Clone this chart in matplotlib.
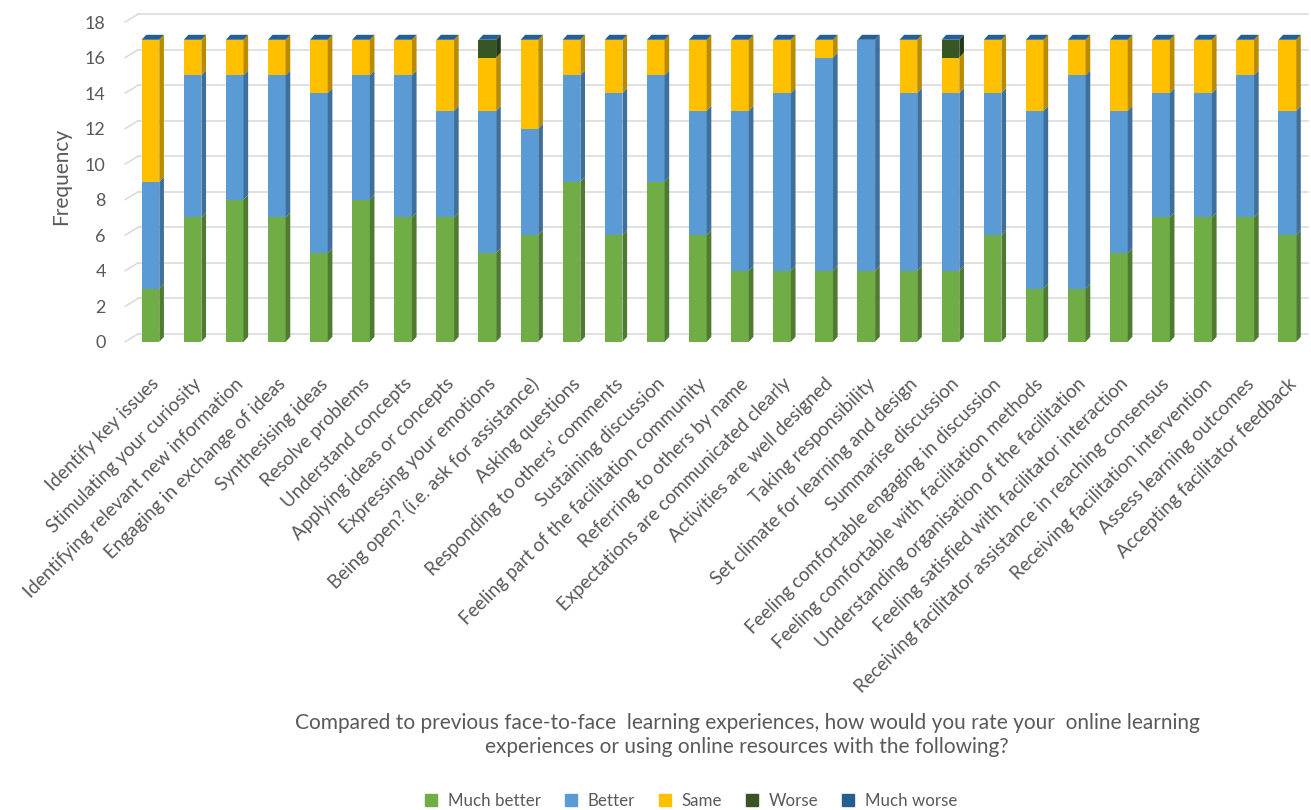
import matplotlib
matplotlib.use('Agg')
import matplotlib.pyplot as plt
import matplotlib.transforms as mtransforms
from matplotlib.patches import Polygon
from matplotlib.lines import Line2D
import numpy as np

plt.rcParams['font.family'] = ['Lato', 'DejaVu Sans']

categories = [
    'Identify key issues', 'Stimulating your curiosity',
    'Identifying relevant new information', 'Engaging in exchange of ideas',
    'Synthesising ideas', 'Resolve problems', 'Understand concepts',
    'Applying ideas or concepts', 'Expressing your emotions',
    'Being open? (i.e. ask for assistance)', 'Asking questions',
    'Responding to others\u2019 comments', 'Sustaining discussion',
    'Feeling part of the facilitation community', 'Referring to others by name',
    'Expectations are communicated clearly', 'Activities are well designed',
    'Taking responsibility', 'Set climate for learning and design',
    'Summarise discussion', 'Feeling comfortable engaging in discussion',
    'Feeling comfortable with facilitation methods',
    'Understanding organisation of the facilitation',
    'Feeling satisfied with facilitator interaction',
    'Receiving facilitator assistance in reaching consensus',
    'Receiving facilitation intervention', 'Assess learning outcomes',
    'Accepting facilitator feedback',
]

much_better = [3, 7, 8, 7, 5, 8, 7, 7, 5, 6, 9, 6, 9, 6, 4, 4, 4, 4, 4, 4, 6, 3, 3, 5, 7, 7, 7, 6]
better      = [6, 8, 7, 8, 9, 7, 8, 6, 8, 6, 6, 8, 6, 7, 9, 10, 12, 13, 10, 10, 8, 10, 12, 8, 7, 7, 8, 7]
same        = [8, 2, 2, 2, 3, 2, 2, 4, 3, 5, 2, 3, 2, 4, 4, 3, 1, 0, 3, 2, 3, 4, 2, 4, 3, 3, 2, 4]
worse       = [0, 0, 0, 0, 0, 0, 0, 0, 1, 0, 0, 0, 0, 0, 0, 0, 0, 0, 0, 1, 0, 0, 0, 0, 0, 0, 0, 0]
much_worse  = [0] * 28

series_names = ['Much better', 'Better', 'Same', 'Worse', 'Much worse']
series = [much_better, better, same, worse, much_worse]
colors = ['#70AD47', '#5B9BD5', '#FFC000', '#375623', '#255E91']
side_colors = ['#4E7A31', '#3F6F9B', '#B88B00', '#24391A', '#183F63']

fig = plt.figure(figsize=(13.11, 8.1), dpi=100)
ax = fig.add_axes([0.0955, 0.578, 0.9025, 0.408])

x = np.arange(len(categories))
w = 0.42
dx, dy = 0.11, 0.28      # depth of the bars (3D look)
gx, gy = 0.31, 0.45      # depth of the back wall

# back wall gridlines + slanted floor ticks
for v in range(0, 19, 2):
    ax.plot([-0.6 + gx, 27.5], [v + gy, v + gy], color='#D9D9D9', lw=1.1, zorder=0, clip_on=False)
    ax.plot([-0.6, -0.6 + gx], [v, v + gy], color='#D9D9D9', lw=1.1, zorder=0, clip_on=False)

bottom = np.zeros(len(categories))
for vals, c, sc in zip(series, colors, side_colors):
    vals = np.array(vals, dtype=float)
    ax.bar(x, vals, w, bottom=bottom, color=c, zorder=2, linewidth=0)
    for xi, b, v in zip(x, bottom, vals):
        if v <= 0:
            continue
        r = xi + w / 2
        ax.add_patch(Polygon([(r, b), (r + dx, b + dy), (r + dx, b + v + dy), (r, b + v)],
                             closed=True, color=sc, lw=0, zorder=2))
    bottom = bottom + vals

# top caps
for xi, t in zip(x, bottom):
    ax.add_patch(Polygon([(xi - w / 2, t), (xi + w / 2, t), (xi + w / 2 + dx, t + dy),
                          (xi - w / 2 + dx, t + dy)], closed=True, color=colors[4], lw=0, zorder=3))

ax.set_xlim(-0.6, 27.5)
ax.set_ylim(0, 18.6)
ax.set_yticks(range(0, 19, 2))
ax.set_xticks(x)
ax.set_xticklabels(categories, fontsize=13.5, color='#595959')
shift = mtransforms.ScaledTranslation(-8 / 72, 4 / 72, fig.dpi_scale_trans)
for lab in ax.get_xticklabels():
    lab.set_rotation(45)
    lab.set_ha('right')
    lab.set_va('top')
    lab.set_rotation_mode('anchor')
    lab.set_transform(lab.get_transform() + shift)
ax.tick_params(axis='x', length=0, pad=24)
ax.tick_params(axis='y', length=0, pad=14, labelsize=13, labelcolor='#595959')
for s in ax.spines.values():
    s.set_visible(False)
ax.set_ylabel('Frequency', fontsize=15, color='#595959', labelpad=10)

fig.text(0.57, 0.0926, 'Compared to previous face-to-face  learning experiences, how would you rate your  online learning\n'
         'experiences or using online resources with the following?',
         ha='center', va='center', fontsize=15, color='#595959', linespacing=1.2)

handles = [Line2D([], [], marker='s', linestyle='', markersize=8.5, color=c) for c in colors]
fig.legend(handles, series_names, loc='center', bbox_to_anchor=(0.523, 0.011), ncol=5,
           frameon=False, fontsize=12.2, handletextpad=0.0, columnspacing=0.75,
           labelcolor='#595959')

fig.savefig('out.png', dpi=100)
